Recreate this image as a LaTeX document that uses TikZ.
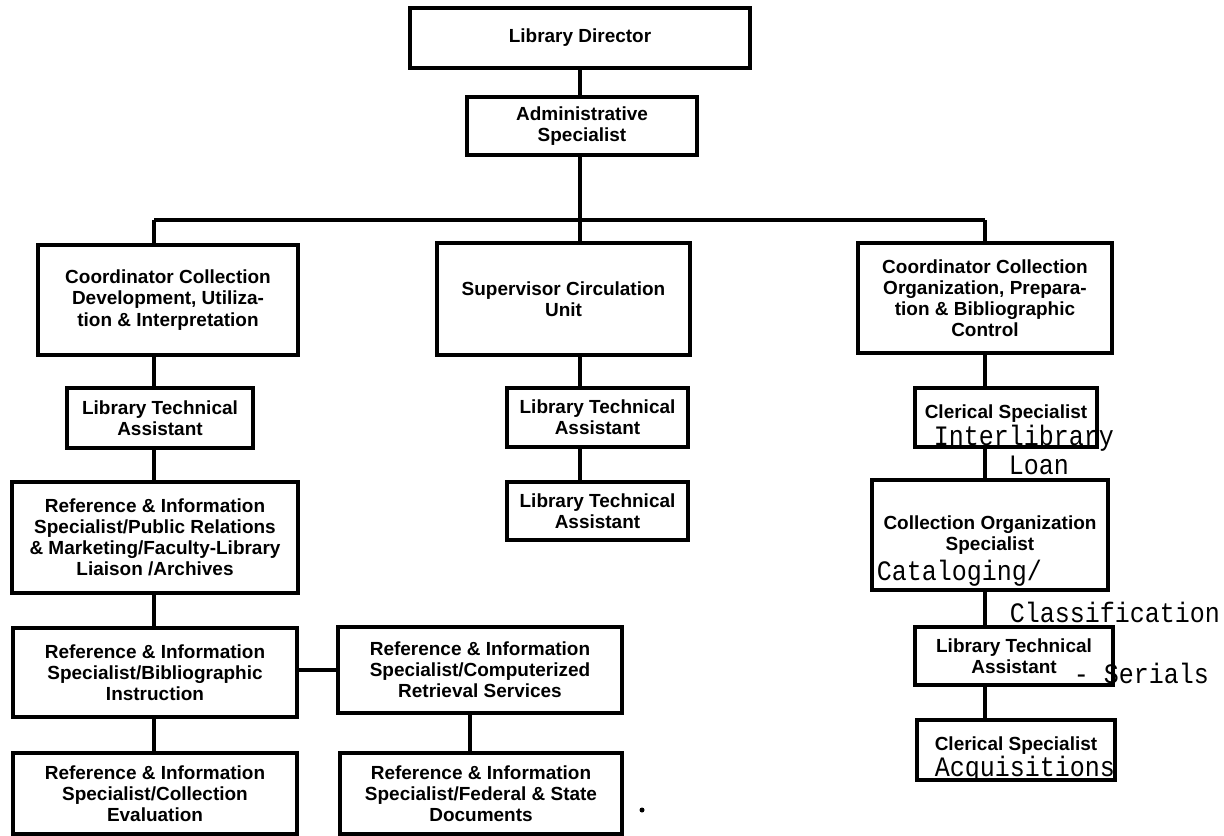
\documentclass[tikz,border=0pt]{standalone}
\usepackage{fontspec}
\setmainfont{Liberation Sans}
\newfontfamily\typed[FakeStretch=0.89]{Liberation Mono}
\usepackage{tikz}
\usetikzlibrary{calc}

\begin{document}
\begin{tikzpicture}[line width=2pt,
    main/.style = {draw, rectangle, align=center, inner sep=0pt,
                   font=\fontsize{10.8}{12}\selectfont\bfseries},
    high/.style = {text depth=7pt},
    note/.style = {anchor=west, inner sep=0pt, font=\fontsize{16}{18}\selectfont\typed}]
    \useasboundingbox (0,0) rectangle (24.48,-16.7);

    \node [main, minimum width=6.8cm,  minimum height=1.2cm]  (1) at (11.6, -0.76) {Library Director};
    \node [main, minimum width=4.6cm,  minimum height=1.16cm] (2) at (11.64, -2.52) {Administrative\\Specialist};
    \node [main, minimum width=5.2cm,  minimum height=2.2cm]  (3) at (3.36, -6.0) {Coordinator Collection\\Development, Utiliza-\\tion \& Interpretation};
    \node [main, minimum width=5.06cm, minimum height=2.24cm] (4) at (11.27, -5.98) {Supervisor Circulation\\Unit};
    \node [main, minimum width=5.08cm, minimum height=2.2cm]  (5) at (19.7, -5.96) {Coordinator Collection\\Organization, Prepara-\\tion \& Bibliographic\\Control};
    \node [main, minimum width=3.72cm, minimum height=1.2cm]  (6) at (3.2, -8.36) {Library Technical\\Assistant};
    \node [main, minimum width=3.62cm, minimum height=1.18cm] (7) at (11.95, -8.35) {Library Technical\\Assistant};
    \node [main, minimum width=3.62cm, minimum height=1.16cm] (8) at (11.95, -10.22) {Library Technical\\Assistant};
    \node [main, minimum width=5.72cm, minimum height=2.22cm] (9) at (3.1, -10.75) {Reference \& Information\\Specialist/Public Relations\\\& Marketing/Faculty-Library\\Liaison /Archives};
    \node [main, minimum width=5.68cm, minimum height=1.78cm] (10) at (3.1, -13.45) {Reference \& Information\\Specialist/Bibliographic\\Instruction};
    \node [main, minimum width=5.68cm, minimum height=1.72cm] (11) at (9.6, -13.4) {Reference \& Information\\Specialist/Computerized\\Retrieval Services};
    \node [main, minimum width=5.68cm, minimum height=1.62cm] (12) at (3.1, -15.87) {Reference \& Information\\Specialist/Collection\\Evaluation};
    \node [main, minimum width=5.64cm, minimum height=1.62cm] (13) at (9.62, -15.87) {Reference \& Information\\Specialist/Federal \& State\\Documents};
    \node [main, high, minimum width=3.64cm, minimum height=1.18cm] (14) at (20.12, -8.35) {Clerical Specialist};
    \node [main, minimum width=4.72cm, minimum height=2.2cm]  (15) at (19.8, -10.7) {Collection Organization\\Specialist};
    \node [main, minimum width=3.96cm, minimum height=1.16cm] (16) at (20.28, -13.12) {Library Technical\\Assistant};
    \node [main, high, minimum width=3.96cm, minimum height=1.2cm]  (17) at (20.32, -15.0) {Clerical Specialist};

    % typed additions
    \node [note] (n1) at (18.64, -8.76) {Interlibrary};
    \node [note] (n2) at (20.14, -9.3) {Loan};
    \node [note] (n3) at (17.5, -11.46) {Cataloging/};
    \node [note] (n4) at (20.16, -12.24) {Classification};
    \node [note] (n5) at (21.44, -13.46) {- Serials};
    \node [note] (n6) at (18.66, -15.38) {Acquisitions};

    \coordinate (bL) at (3.08, -4.4);
    \coordinate (bM) at (11.6, -4.4);
    \coordinate (bR) at (19.7, -4.4);

    \draw (1.south -| bM) -- (2.north -| bM);
    \draw (2.south -| bM) -- (bM);
    \draw (bL) -- (bR);
    \draw (bL) -- (3.north -| bL);
    \draw (bM) -- (4.north -| bM);
    \draw (bR) -- (5.north -| bR);

    \draw (3.south -| bL) -- (6.north -| bL);
    \draw (6.south -| bL) -- (9.north -| bL);
    \draw (9.south -| bL) -- (10.north -| bL);
    \draw (10.south -| bL) -- (12.north -| bL);
    \draw (10.east |- 11.west) -- (11.west);
    \draw ([xshift=-0.2cm]11.south) -- ([xshift=-0.2cm]11.south |- 13.north);

    \draw (4.south -| bM) -- (7.north -| bM);
    \draw (7.south -| bM) -- (8.north -| bM);

    \draw (5.south -| bR) -- (14.north -| bR);
    \draw (14.south -| bR) -- (15.north -| bR);
    \draw (15.south -| bR) -- (16.north -| bR);
    \draw (16.south -| bR) -- (17.north -| bR);

    \fill (12.84, -16.2) circle (0.05);
\end{tikzpicture}
\end{document}
